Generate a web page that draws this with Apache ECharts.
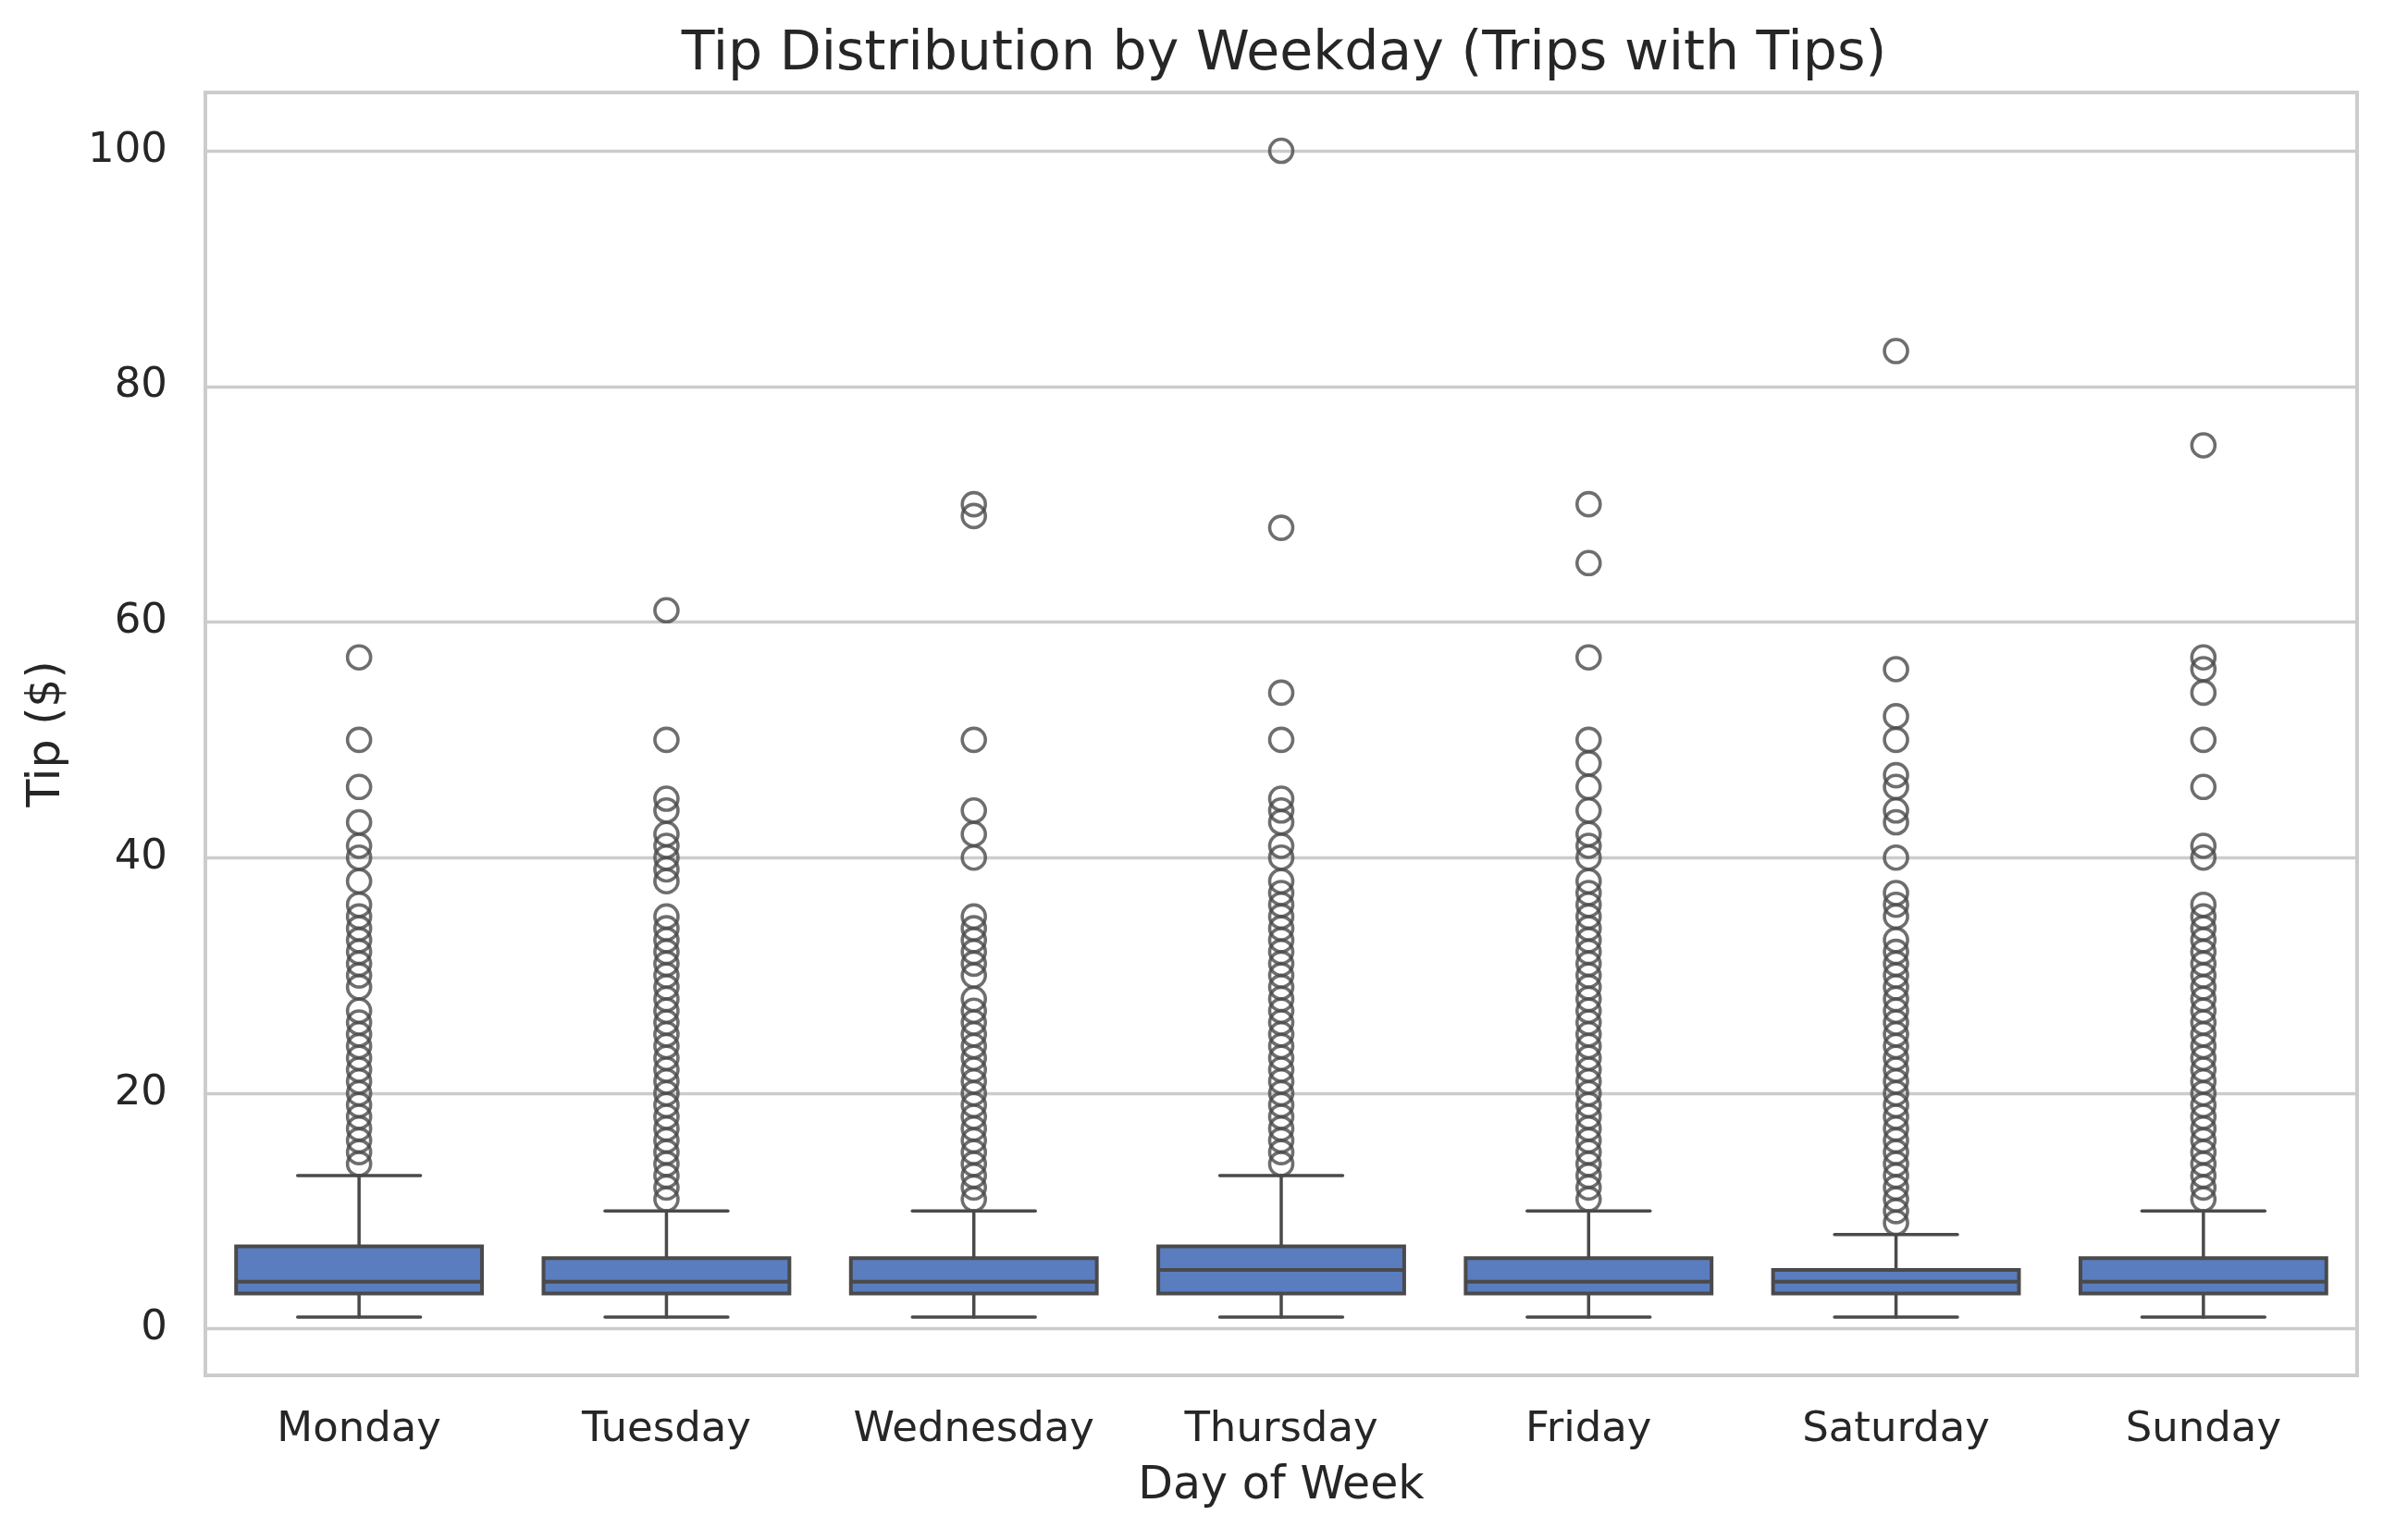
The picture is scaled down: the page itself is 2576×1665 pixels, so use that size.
<!DOCTYPE html>
<html>
<head>
<meta charset="utf-8">
<script src="https://cdn.jsdelivr.net/npm/echarts@6/dist/echarts.min.js"></script>
<style>
html,body{margin:0;padding:0;background:#fff;}
#chart{width:2576px;height:1665px;}
</style>
</head>
<body>
<div id="chart"></div>
<script>
const days = ['Monday','Tuesday','Wednesday','Thursday','Friday','Saturday','Sunday'];
// [min whisker, Q1, median, Q3, max whisker]
const boxStats = [
  [1,3,4,7,13],
  [1,3,4,6,10],
  [1,3,4,6,10],
  [1,3,5,7,13],
  [1,3,4,6,10],
  [1,3,4,5,8],
  [1,3,4,6,10]
];
const mondayOutliers = [14,15,16,17,18,19,20,21,22,23,24,25,26,27,29,30,31,32,33,34,35,36,38,40,41,43,46,50,57];
const tuesdayOutliers = [11,12,13,14,15,16,17,18,19,20,21,22,23,24,25,26,27,28,29,30,31,32,33,34,35,38,39,40,41,42,44,45,50,61];
const wednesdayOutliers = [11,12,13,14,15,16,17,18,19,20,21,22,23,24,25,26,27,28,30,31,32,33,34,35,40,42,44,50,69,70];
const thursdayOutliers = [14,15,16,17,18,19,20,21,22,23,24,25,26,27,28,29,30,31,32,33,34,35,36,37,38,40,41,43,44,45,50,54,68,100];
const fridayOutliers = [11,12,13,14,15,16,17,18,19,20,21,22,23,24,25,26,27,28,29,30,31,32,33,34,35,36,37,38,40,41,42,44,46,48,50,57,65,70];
const saturdayOutliers = [9,10,11,12,13,14,15,16,17,18,19,20,21,22,23,24,25,26,27,28,29,30,31,32,33,35,36,37,40,43,44,46,47,50,52,56,83];
const sundayOutliers = [11,12,13,14,15,16,17,18,19,20,21,22,23,24,25,26,27,28,29,30,31,32,33,34,35,36,40,41,46,50,54,56,57,75];
const yTicks = [0,20,40,60,80,100];

const outlierLists = [mondayOutliers,tuesdayOutliers,wednesdayOutliers,thursdayOutliers,fridayOutliers,saturdayOutliers,sundayOutliers];
const boxData = boxStats.map((s,i)=>[i].concat(s));
const outlierData = [];
outlierLists.forEach((list,i)=>list.forEach(v=>outlierData.push([i,v])));

const LINE = '#4a4a4a';
const BOX = '#597dbf';
const TEXT = '#262626';
const FONT = 'DejaVu Sans';

function renderBox(params, api){
  const i = api.value(0);
  const pMin = api.coord([i, api.value(1)]);
  const pQ1 = api.coord([i, api.value(2)]);
  const pMed = api.coord([i, api.value(3)]);
  const pQ3 = api.coord([i, api.value(4)]);
  const pMax = api.coord([i, api.value(5)]);
  const band = api.size([1,0])[0];
  const bw = band*0.8;
  const cw = bw/2;
  const cx = pMed[0];
  const ls = {stroke: LINE, lineWidth: 3.5, lineCap:'round'};
  return {type:'group', children:[
    {type:'line', shape:{x1:cx,y1:pQ1[1],x2:cx,y2:pMin[1]}, style:ls},
    {type:'line', shape:{x1:cx,y1:pQ3[1],x2:cx,y2:pMax[1]}, style:ls},
    {type:'line', shape:{x1:cx-cw/2,y1:pMin[1],x2:cx+cw/2,y2:pMin[1]}, style:ls},
    {type:'line', shape:{x1:cx-cw/2,y1:pMax[1],x2:cx+cw/2,y2:pMax[1]}, style:ls},
    {type:'rect', shape:{x:cx-bw/2,y:pQ3[1],width:bw,height:pQ1[1]-pQ3[1]}, style:{fill:BOX, stroke:LINE, lineWidth:4}},
    {type:'line', shape:{x1:cx-bw/2,y1:pMed[1],x2:cx+bw/2,y2:pMed[1]}, style:{stroke:LINE, lineWidth:4}}
  ]};
}

const chart = echarts.init(document.getElementById('chart'), null, {renderer:'canvas', devicePixelRatio:1});
chart.setOption({
  animation:false,
  backgroundColor:'#ffffff',
  textStyle:{fontFamily:FONT},
  title:{
    text:'Tip Distribution by Weekday (Trips with Tips)',
    left:1383, top:25, textAlign:'center',
    textStyle:{fontFamily:FONT, fontSize:58.5, fontWeight:'normal', color:TEXT}
  },
  grid:{left:222, right:28, top:100, bottom:178, show:true, borderColor:'#cccccc', borderWidth:4, backgroundColor:'#ffffff'},
  xAxis:{
    type:'category', data:days, boundaryGap:true,
    name:'Day of Week', nameLocation:'middle', nameGap:96,
    nameTextStyle:{fontFamily:FONT, fontSize:49, color:TEXT},
    axisLine:{show:false}, axisTick:{show:false}, splitLine:{show:false},
    axisLabel:{fontFamily:FONT, fontSize:45, color:TEXT, margin:37, interval:0}
  },
  yAxis:{
    type:'value', min:-3.95, max:104.95,
    name:'Tip ($)', nameLocation:'middle', nameGap:146,
    nameTextStyle:{fontFamily:FONT, fontSize:49, color:TEXT},
    axisLine:{show:false},
    axisTick:{show:false, customValues:yTicks},
    axisLabel:{fontFamily:FONT, fontSize:45, color:TEXT, margin:41, customValues:yTicks},
    splitLine:{show:true, lineStyle:{color:'#cccccc', width:3.3}}
  },
  series:[
    {type:'custom', renderItem:renderBox, data:boxData, encode:{x:0, y:[1,2,3,4,5]}, z:2},
    {type:'scatter', data:outlierData, symbol:'circle', symbolSize:25,
     itemStyle:{color:'rgba(0,0,0,0)', borderColor:LINE, borderWidth:3.6}, z:3}
  ]
});
</script>
</body>
</html>
